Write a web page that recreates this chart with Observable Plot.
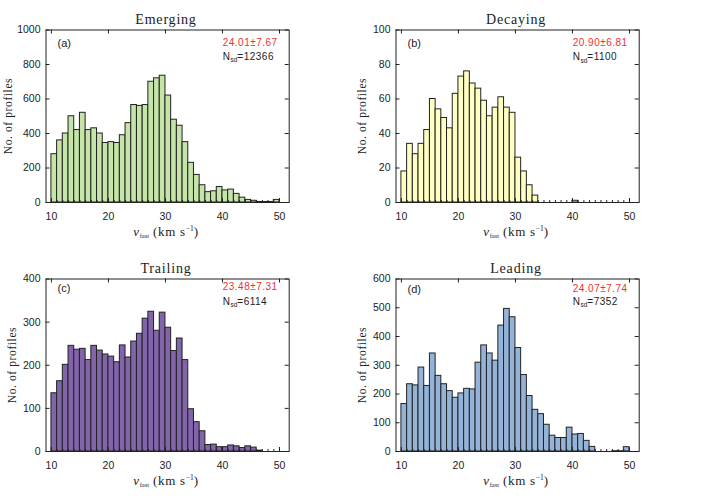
<!DOCTYPE html>
<html><head><meta charset="utf-8">
<script src="https://cdn.jsdelivr.net/npm/d3@7"></script>
<script src="https://cdn.jsdelivr.net/npm/@observablehq/plot@0.6"></script>
<style>
body{margin:0;background:#fff;}
#fig{position:relative;width:702px;height:499px;overflow:hidden;background:#fff;font-family:"Liberation Sans",sans-serif;color:#222;}
.plot{position:absolute;}
.lab{position:absolute;white-space:nowrap;line-height:1;}
.title{font-family:"Liberation Serif",serif;font-size:14px;letter-spacing:0.8px;transform:translate(-50%,-50%);}
.ylab{font-family:"Liberation Serif",serif;font-size:11.5px;letter-spacing:0.6px;transform:translate(-50%,-50%) rotate(-90deg);}
.xlab{font-family:"Liberation Serif",serif;font-size:13px;letter-spacing:0.7px;transform:translate(-50%,-50%);}
.tag{font-size:11px;transform:translate(0,-50%);}
.mean{font-size:10px;letter-spacing:0.5px;color:#f03030;transform:translate(0,-50%);}
.nsd{font-size:10px;letter-spacing:0.5px;transform:translate(0,-50%);}
.sub{font-size:6.5px;position:relative;top:2.5px;letter-spacing:0;}
.sup{font-size:7.5px;position:relative;top:-4.5px;letter-spacing:0;}
</style>
</head><body><div id="fig"></div>
<script>
// start of each 1 km/s bin
const binStart = d3.range(10, 50);
const emerging = [280,360,400,500,420,520,420,430,400,345,350,345,390,460,565,560,565,700,720,735,620,480,445,350,230,160,100,60,65,90,70,75,50,28,15,10,3,3,3,15];
const decaying = [18,34,28,34,42,60,54,49,43,63,73,76,69,66,59,50,55,61,55,52,26,18,10,4,0,0,0,0,0,0,1,0,0,0,0,0,0,0,0,0];
const trailing = [135,163,201,245,236,238,212,245,234,225,220,207,246,218,255,273,308,324,280,322,287,233,262,212,98,68,47,15,16,10,10,14,12,8,12,9,2,0,0,0];
const leading = [165,234,230,292,228,341,263,234,210,187,202,218,216,309,369,341,316,438,496,467,360,266,193,145,130,93,55,47,47,83,59,61,37,16,0,0,0,1,1,15];

const xTicks = [10,20,30,40,50];
const xMinor = d3.range(10, 51);
const yTicksA = [0,200,400,600,800,1000];
const yTicksB = [0,20,40,60,80,100];
const yTicksC = [0,100,200,300,400];
const yTicksD = [0,100,200,300,400,500,600];

const titles = ["Emerging","Decaying","Trailing","Leading"];
const tags = ["(a)","(b)","(c)","(d)"];
const means = ["24.01±7.67","20.90±6.81","23.48±7.31","24.07±7.74"];
const nsd = ["12366","1100","6114","7352"];

const panels = [
  {counts:emerging, yTicks:yTicksA, color:"#c4e4a8", left:0, top:0, ylx:8.5, tagY:43, meanY:42.7, nY:56.7},
  {counts:decaying, yTicks:yTicksB, color:"#ffffc2", left:350, top:0, ylx:13, tagY:42.7, meanY:42.7, nY:57},
  {counts:trailing, yTicks:yTicksC, color:"#8264aa", left:0, top:249, ylx:12.7, tagY:38.5, meanY:38.3, nY:52.7},
  {counts:leading, yTicks:yTicksD, color:"#94b3d8", left:350, top:249, ylx:12.7, tagY:40, meanY:40.3, nY:52.7}
];

const W = 350, H = 249, mL = 45.5, mR = 61.3, mT = 29.5, mB = 47;
const iW = W - mL - mR, iH = H - mT - mB;
const fig = document.getElementById("fig");

panels.forEach((p, k) => {
  const data = binStart.map((x, i) => ({x1: x, x2: x + 1, y: p.counts[i]})).filter(d => d.y > 0);
  const yMax = p.yTicks[p.yTicks.length - 1];
  const svg = Plot.plot({
    width: W, height: H,
    marginLeft: mL, marginRight: mR, marginTop: mT, marginBottom: mB,
    x: {domain: [9.05, 51.7]},
    y: {domain: [0, yMax]},
    style: {fontFamily: "Liberation Sans", fontSize: "10.5px", color: "#222", background: "transparent"},
    marks: [
      Plot.rectY(data, {x1: "x1", x2: "x2", y: "y", fill: p.color, stroke: "#222", strokeWidth: 1}),
      Plot.frame({stroke: "#222", strokeWidth: 1}),
      Plot.tickX(xMinor, {x: d => d, insetTop: iH - 2, stroke: "#222"}),
      Plot.tickX(xTicks, {x: d => d, insetTop: iH - 4, stroke: "#222"}),
      Plot.tickX(xTicks, {x: d => d, insetBottom: iH - 4, stroke: "#222"}),
      Plot.tickY(p.yTicks, {y: d => d, insetRight: iW - 4, stroke: "#222"}),
      Plot.tickY(p.yTicks, {y: d => d, insetLeft: iW - 4, stroke: "#222"}),
      Plot.axisX({ticks: xTicks, tickSize: 0, tickPadding: 10.5, label: null, tickFormat: d => String(d)}),
      Plot.axisY({ticks: p.yTicks, tickSize: 0, tickPadding: 5.5, label: null, tickFormat: d => String(d)})
    ]
  });
  svg.classList.add("plot");
  svg.style.left = p.left + "px";
  svg.style.top = p.top + "px";
  fig.appendChild(svg);

  const add = (cls, x, y, html) => {
    const d = document.createElement("div");
    d.className = "lab " + cls;
    d.style.left = (p.left + x) + "px";
    d.style.top = (p.top + y) + "px";
    d.innerHTML = html;
    fig.appendChild(d);
  };
  add("title", 166, 19.5, titles[k]);
  add("ylab", p.ylx, 115.5, "No. of profiles");
  add("xlab", 166, 230.5, '<i>ν</i><span class="sub">fast</span> (km s<span class="sup">−1</span>)');
  add("tag", 57.5, p.tagY, tags[k]);
  add("mean", 222.7, p.meanY, means[k]);
  add("nsd", 222.7, p.nY, 'N<span class="sub">sd</span>=' + nsd[k]);
});
</script>
</body></html>
